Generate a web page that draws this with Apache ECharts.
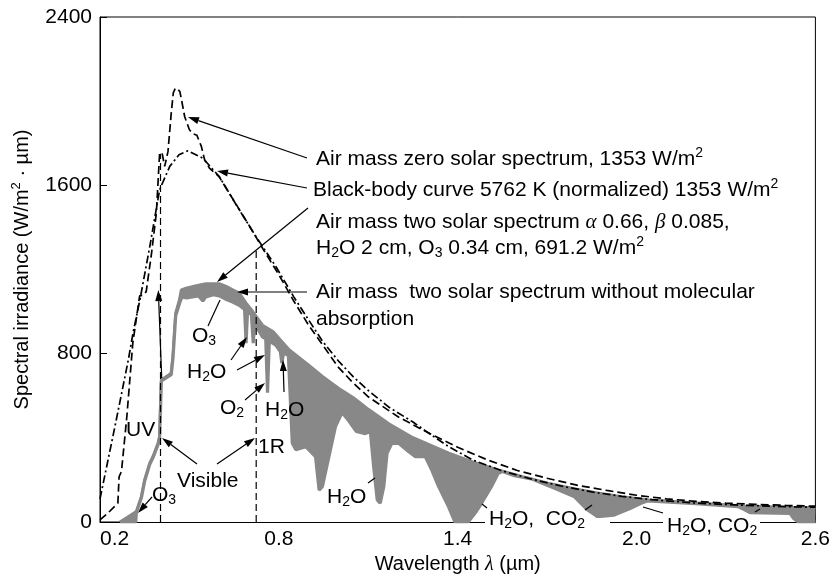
<!DOCTYPE html>
<html>
<head>
<meta charset="utf-8">
<script src="https://cdn.jsdelivr.net/npm/echarts@6.0.0/dist/echarts.min.js"></script>
<style>
html,body{margin:0;padding:0;background:#fff}
#main{width:833px;height:581px}
</style>
</head>
<body>
<div id="main"></div>
<script>
// wavelength (um), spectral irradiance (W/m2.um)
var am0Spectrum = [[0.2,10],[0.225,40],[0.26,90],[0.264,215],[0.272,240],[0.29,500],[0.31,850],[0.333,1075],[0.345,1078],[0.355,1095],[0.373,1278],[0.389,1468],[0.4,1753],[0.408,1755],[0.417,1690],[0.428,1760],[0.439,1943],[0.446,2040],[0.453,2062],[0.461,2058],[0.468,2045],[0.473,2010],[0.484,1927],[0.5,1864],[0.512,1845],[0.525,1838],[0.54,1785],[0.551,1721],[0.567,1682],[0.6,1640],[0.65,1525],[0.7,1410],[0.75,1290],[0.8,1175],[0.85,1050],[0.9,935],[0.95,835],[1.0,735],[1.05,660],[1.1,595],[1.2,500],[1.3,425],[1.4,355],[1.5,295],[1.6,245],[1.7,208],[1.8,175],[1.9,150],[2.0,127],[2.1,110],[2.2,98],[2.3,90],[2.4,84],[2.5,79],[2.6,75]];
var blackBody = [[0.2,110],[0.25,453],[0.295,770],[0.311,900],[0.334,1056],[0.367,1309],[0.4,1579],[0.434,1690],[0.465,1745],[0.495,1764],[0.545,1729],[0.6,1642],[0.667,1484],[0.723,1357],[0.79,1214],[0.85,1070],[0.9,960],[0.946,860],[1.0,765],[1.05,690],[1.1,625],[1.17,545],[1.25,475],[1.3,425],[1.37,358],[1.45,295],[1.55,243],[1.65,203],[1.75,170],[1.85,143],[1.95,122],[2.05,106],[2.2,90],[2.35,80],[2.5,73],[2.6,70]];
// AM2 without molecular absorption (top of the grey band)
var am2Clear = [[0.267,0],[0.295,25],[0.322,49],[0.339,120],[0.35,200],[0.367,279],[0.378,311],[0.395,374],[0.4,406],[0.406,675],[0.411,683],[0.439,707],[0.445,790],[0.454,992],[0.467,1056],[0.473,1103],[0.489,1111],[0.523,1122],[0.556,1132],[0.6,1132],[0.623,1119],[0.645,1103],[0.667,1087],[0.69,1040],[0.712,1000],[0.745,935],[0.78,905],[0.834,818],[0.9,745],[0.946,691],[1.0,635],[1.05,590],[1.1,535],[1.17,465],[1.25,400],[1.37,327],[1.45,285],[1.536,247],[1.62,214],[1.703,184],[1.79,158],[1.869,137],[1.95,120],[2.036,105],[2.2,90],[2.36,75],[2.5,70],[2.6,68]];
// AM2 with absorption (bottom of the grey band)
var am2Absorbed = [[0.267,0],[0.32,0],[0.322,45],[0.339,115],[0.35,195],[0.367,274],[0.378,306],[0.395,369],[0.4,400],[0.406,670],[0.411,678],[0.439,700],[0.445,780],[0.454,980],[0.467,1040],[0.475,1070],[0.49,1065],[0.51,1070],[0.53,1075],[0.545,1050],[0.555,1070],[0.58,1080],[0.6,1075],[0.62,1060],[0.645,1045],[0.667,1030],[0.685,1010],[0.69,850],[0.695,1000],[0.708,985],[0.714,850],[0.72,965],[0.73,915],[0.745,880],[0.756,870],[0.762,615],[0.768,860],[0.79,840],[0.805,810],[0.81,755],[0.816,805],[0.832,790],[0.845,374],[0.857,343],[0.89,358],[0.923,311],[0.935,152],[0.946,168],[0.968,311],[0.99,453],[1.012,520],[1.035,480],[1.06,430],[1.09,420],[1.107,430],[1.118,263],[1.13,105],[1.14,89],[1.152,168],[1.163,327],[1.179,374],[1.202,374],[1.235,335],[1.257,311],[1.291,311],[1.313,247],[1.336,168],[1.369,73],[1.391,0],[1.435,0],[1.458,41],[1.48,89],[1.513,168],[1.536,232],[1.55,240],[1.59,220],[1.647,205],[1.725,160],[1.792,120],[1.836,57],[1.869,25],[1.925,33],[1.98,65],[2.015,89],[2.036,100],[2.2,87],[2.34,73],[2.36,60],[2.38,45],[2.515,41],[2.526,18],[2.537,6],[2.545,0],[2.6,0]];
var visibleEdge = [[0.403,0],[0.403,1750]];
var irEdge = [[0.724,0],[0.724,1290]];
var xTicks = [0.2, 0.8, 1.4, 2.0, 2.6];
var yTicks = [0, 800, 1600, 2400];

var GRAY = '#888888';
var FONT = 'Liberation Sans';
var RICH = {
  sub: {font: '14px "Liberation Sans"', verticalAlign: 'bottom', lineHeight: 13},
  sup: {font: '14px "Liberation Sans"', verticalAlign: 'top', lineHeight: 13},
  gk: {font: 'italic 21px "Liberation Serif"'}
};

function text(x, y, s) {
  return {type: 'text', x: x, y: y, z: 100, silent: true,
    style: {text: s, font: '21px "Liberation Sans"', lineHeight: 25, fill: '#000',
      align: 'left', verticalAlign: 'middle', rich: RICH}};
}
function stroke(x1, y1, x2, y2) {
  return {type: 'line', z: 100, silent: true, shape: {x1: x1, y1: y1, x2: x2, y2: y2},
    style: {stroke: '#000', lineWidth: 1.2}};
}
function arrow(x1, y1, x2, y2) {
  var dx = x2 - x1, dy = y2 - y1, len = Math.sqrt(dx * dx + dy * dy);
  var ux = dx / len, uy = dy / len, hl = 11, hw = 3.5;
  var bx = x2 - ux * hl, by = y2 - uy * hl;
  return [stroke(x1, y1, bx, by),
    {type: 'polygon', z: 100, silent: true,
      shape: {points: [[x2, y2], [bx - uy * hw, by + ux * hw], [bx + uy * hw, by - ux * hw]]},
      style: {fill: '#000'}}];
}

var notes = [
  // gaps in the baseline under the bottom labels
  {type: 'rect', z: 99, silent: true, shape: {x: 485, y: 518, width: 125, height: 9}, style: {fill: '#fff'}},
  {type: 'rect', z: 99, silent: true, shape: {x: 663, y: 518, width: 97, height: 9}, style: {fill: '#fff'}},
  text(316, 159, 'Air mass zero solar spectrum, 1353 W/m{sup|2}'),
  text(313, 190, 'Black-body curve 5762 K (normalized) 1353 W/m{sup|2}'),
  text(316, 222, 'Air mass two solar spectrum {gk|α} 0.66, {gk|β} 0.085,'),
  text(316, 248, 'H{sub|2}O 2 cm, O{sub|3} 0.34 cm, 691.2 W/m{sup|2}'),
  text(316, 292, 'Air mass  two solar spectrum without molecular'),
  text(316, 319, 'absorption'),
  text(192, 336, 'O{sub|3}'),
  text(187, 372, 'H{sub|2}O'),
  text(220, 408, 'O{sub|2}'),
  text(265, 410, 'H{sub|2}O'),
  text(126, 430, 'UV'),
  text(177, 481, 'Visible'),
  text(258, 447, '1R'),
  text(152, 495, 'O{sub|3}'),
  text(327, 497, 'H{sub|2}O'),
  text(489, 519, 'H{sub|2}O,  CO{sub|2}'),
  text(667, 526, 'H{sub|2}O, CO{sub|2}'),
  stroke(208, 326, 220, 300),
  stroke(368, 483, 375, 478),
  stroke(482, 504, 487, 508),
  stroke(585, 510, 592, 505),
  stroke(643, 507, 663, 513),
  stroke(755, 512, 760, 509)
].concat(
  arrow(307, 158, 188, 117),
  arrow(307, 188, 217, 171),
  arrow(308, 208, 217, 282),
  arrow(307, 292, 237, 292),
  arrow(231, 360, 247, 337),
  arrow(237, 370, 265, 355),
  arrow(245, 400, 265, 383),
  arrow(284, 392, 283, 360),
  arrow(197, 464, 162, 438),
  arrow(217, 464, 255, 438),
  arrow(152, 497, 138, 513),
  arrow(161.7, 378, 158.3, 290)
);

var myChart = echarts.init(document.getElementById('main'));
var option = {
  animation: false,
  backgroundColor: '#fff',
  grid: {left: 100, right: 15, top: 17, bottom: 59, show: true, borderColor: '#000', borderWidth: 1},
  xAxis: {
    type: 'value', min: 0.2, max: 2.6, interval: 0.6,
    name: 'Wavelength {gk|λ} (µm)', nameLocation: 'middle', nameGap: 31,
    nameTextStyle: {fontSize: 20, fontFamily: FONT, color: '#000', rich: {gk: {fontSize: 20, fontStyle: 'italic', fontFamily: 'Liberation Serif', color: '#000'}}},
    axisLine: {lineStyle: {color: '#000', width: 1}},
    axisTick: {inside: true, length: 7, lineStyle: {color: '#000'}, customValues: xTicks},
    axisLabel: {fontSize: 21, fontFamily: FONT, color: '#000', margin: 7, customValues: xTicks,
      alignMinLabel: 'left', formatter: function (v) { return v.toFixed(1); }},
    splitLine: {show: false}
  },
  yAxis: {
    type: 'value', min: 0, max: 2400, interval: 800,
    name: 'Spectral irradiance (W/m{sup|2} · µm)', nameLocation: 'middle', nameGap: 66,
    nameTextStyle: {fontSize: 20, fontFamily: FONT, color: '#000', lineHeight: 24,
      rich: {sup: {fontSize: 13, fontFamily: FONT, color: '#000', verticalAlign: 'top', lineHeight: 12}}},
    axisLine: {show: true, lineStyle: {color: '#000', width: 1}},
    axisTick: {show: true, inside: true, length: 7, lineStyle: {color: '#000'}, customValues: yTicks},
    axisLabel: {fontSize: 21, fontFamily: FONT, color: '#000', margin: 8, customValues: yTicks,
      formatter: function (v) { return String(v); }},
    splitLine: {show: false}
  },
  series: [
    {name: 'AM2 no molecular absorption', type: 'line', data: am2Clear, symbol: 'none', z: 2,
      lineStyle: {color: GRAY, width: 3.2}, areaStyle: {color: GRAY, opacity: 1}},
    {name: 'AM2', type: 'line', data: am2Absorbed, symbol: 'none', z: 3,
      lineStyle: {color: GRAY, width: 3.2}, areaStyle: {color: '#fff', opacity: 1}},
    {name: 'Visible', type: 'line', data: visibleEdge, symbol: 'none', z: 4,
      lineStyle: {color: '#000', width: 1.2, type: [7, 4]}},
    {name: 'IR', type: 'line', data: irEdge, symbol: 'none', z: 4,
      lineStyle: {color: '#000', width: 1.2, type: [7, 4]}},
    {name: 'Black-body', type: 'line', data: blackBody, symbol: 'none', z: 5,
      lineStyle: {color: '#000', width: 1.7, type: [8, 3, 2, 3]}},
    {name: 'AM0', type: 'line', data: am0Spectrum, symbol: 'none', z: 6,
      lineStyle: {color: '#000', width: 1.7, type: [8, 4]}}
  ],
  graphic: notes
};
myChart.setOption(option);
window.addEventListener('resize', function () {
  myChart.resize();
});
</script>
</body>
</html>
